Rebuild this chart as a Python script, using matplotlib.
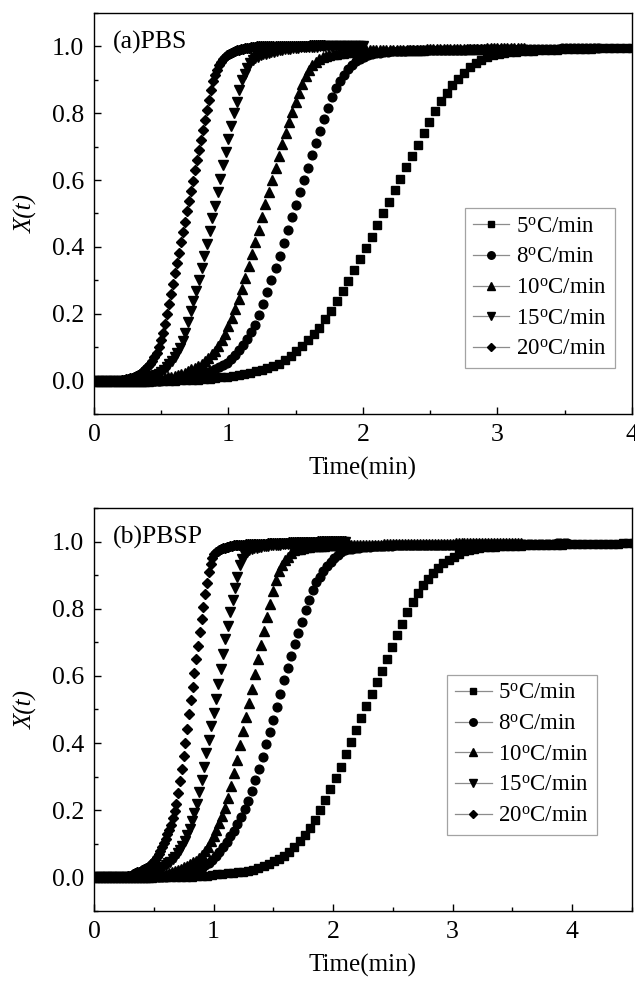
import numpy as np
from matplotlib import pyplot as plt
from matplotlib.lines import Line2D
from matplotlib.ticker import MultipleLocator

plt.rcParams['font.family'] = ['Liberation Serif', 'DejaVu Serif']
plt.rcParams['mathtext.fontset'] = 'custom'
plt.rcParams['mathtext.rm'] = 'Liberation Serif'
plt.rcParams['mathtext.it'] = 'Liberation Serif:italic'

labels = ['5$^\\mathrm{o}$C/min', '8$^\\mathrm{o}$C/min', '10$^\\mathrm{o}$C/min',
          '15$^\\mathrm{o}$C/min', '20$^\\mathrm{o}$C/min']
markers = ['s', 'o', '^', 'v', 'D']
msizes = [5.6, 6.3, 6.9, 6.9, 5.3]
leg_msizes = [4.8, 5.4, 5.8, 5.8, 4.4]

# sampling interval (min) of each curve
dt = [0.043, 0.03, 0.025, 0.02, 0.015]

# ---- (a) PBS : relative crystallinity X(t)
pbs_5 = [0, 0, 0, 0, 0, 0, 0, 0, 0, 0, 0, 0, 0, 0, 0,
         0.001, 0.001, 0.002, 0.003, 0.004, 0.005, 0.007, 0.01, 0.012, 0.015,
         0.017, 0.02, 0.024, 0.028, 0.033, 0.039, 0.045, 0.05, 0.062, 0.075,
         0.088, 0.104, 0.12, 0.139, 0.158, 0.183, 0.207, 0.237, 0.267, 0.298,
         0.33, 0.363, 0.397, 0.431, 0.466, 0.50, 0.535, 0.569, 0.603, 0.638,
         0.672, 0.706, 0.741, 0.775, 0.808, 0.837, 0.862, 0.884, 0.903, 0.921,
         0.938, 0.950, 0.960, 0.968, 0.973, 0.977, 0.980, 0.982, 0.983, 0.985,
         0.986, 0.987, 0.988, 0.989, 0.99, 0.99,
         0.991, 0.991, 0.992, 0.992, 0.993, 0.993, 0.994, 0.994, 0.995, 0.995,
         0.995, 0.996, 0.996, 0.996]
pbs_8 = [0, 0, 0, 0, 0, 0, 0, 0, 0, 0, 0, 0, 0, 0, 0, 0, 0,
         0.001, 0.002, 0.003, 0.004, 0.006, 0.008, 0.01, 0.012, 0.015, 0.018,
         0.021, 0.025, 0.03, 0.035, 0.04, 0.046, 0.053, 0.064, 0.077, 0.091,
         0.106, 0.124, 0.144, 0.167, 0.195, 0.228, 0.264, 0.30, 0.337, 0.374,
         0.412, 0.45, 0.488, 0.525, 0.563, 0.60, 0.637, 0.674, 0.71, 0.746,
         0.782, 0.816, 0.848, 0.874, 0.897, 0.915, 0.931, 0.945, 0.955, 0.963,
         0.969, 0.974, 0.977, 0.979, 0.981, 0.983, 0.984, 0.985, 0.986, 0.987,
         0.987, 0.988, 0.988, 0.989, 0.989, 0.99,
         0.99, 0.99, 0.99, 0.99, 0.99, 0.99, 0.99, 0.99, 0.99, 0.99,
         0.991, 0.991, 0.991, 0.991, 0.991, 0.991, 0.991, 0.991,
         0.992, 0.992, 0.992, 0.992, 0.992, 0.992, 0.992, 0.992,
         0.993, 0.993, 0.993, 0.993, 0.993, 0.993, 0.993,
         0.994, 0.994, 0.994, 0.994, 0.994, 0.994, 0.995, 0.995, 0.995, 0.995]
pbs_10 = [0, 0, 0, 0, 0, 0, 0, 0, 0, 0, 0, 0, 0, 0, 0, 0, 0,
          0.001, 0.002, 0.003, 0.005, 0.007, 0.01, 0.012, 0.014, 0.017, 0.02,
          0.024, 0.029, 0.034, 0.039, 0.044, 0.05, 0.059, 0.068, 0.079, 0.09,
          0.103, 0.12, 0.14, 0.163, 0.187, 0.213, 0.243, 0.274, 0.307, 0.342,
          0.378, 0.414, 0.452, 0.49, 0.528, 0.565, 0.60, 0.636, 0.671, 0.707,
          0.741, 0.774, 0.805, 0.834, 0.862, 0.888, 0.91, 0.928, 0.943, 0.953,
          0.961, 0.967, 0.971, 0.974, 0.976, 0.978, 0.98, 0.981, 0.983, 0.984,
          0.985, 0.986, 0.986, 0.987,
          0.988, 0.988, 0.988, 0.988, 0.988, 0.988, 0.989, 0.989, 0.989, 0.989,
          0.989, 0.989, 0.99, 0.99, 0.99, 0.99, 0.99, 0.99, 0.991, 0.991,
          0.991, 0.991, 0.991, 0.991, 0.992, 0.992, 0.992, 0.992, 0.992, 0.992,
          0.993, 0.993, 0.993, 0.993, 0.993, 0.993, 0.994, 0.994, 0.994, 0.994,
          0.994, 0.994, 0.995, 0.995, 0.995, 0.995, 0.995, 0.995]
pbs_15 = [0, 0, 0, 0, 0, 0, 0, 0, 0, 0, 0, 0, 0, 0, 0, 0,
          0.001, 0.002, 0.003, 0.005, 0.007, 0.01, 0.013, 0.016, 0.02, 0.026,
          0.033, 0.041, 0.05, 0.06, 0.071, 0.083, 0.097, 0.117, 0.142, 0.175,
          0.208, 0.238, 0.269, 0.30, 0.336, 0.373, 0.409, 0.447, 0.485, 0.523,
          0.564, 0.604, 0.644, 0.684, 0.723, 0.762, 0.80, 0.835, 0.869, 0.90,
          0.918, 0.935, 0.95, 0.958, 0.964, 0.969, 0.973, 0.976, 0.978, 0.98,
          0.982, 0.984, 0.986, 0.988, 0.99, 0.991, 0.992, 0.993, 0.994, 0.995,
          0.996, 0.997, 0.997, 0.998, 0.998,
          0.999, 0.999, 0.999, 1.0, 1.0, 1.0, 1.0, 1.0, 1.0, 1.0,
          1.0, 1.0, 1.0, 1.0, 1.0, 1.0, 1.0, 1.0, 1.0, 1.0]
pbs_20 = [0, 0, 0, 0, 0, 0, 0, 0, 0, 0, 0, 0, 0, 0,
          0.001, 0.002, 0.004, 0.005, 0.007, 0.008, 0.01, 0.013, 0.017, 0.021,
          0.026, 0.031, 0.037, 0.043, 0.05, 0.059, 0.07, 0.083, 0.10, 0.12,
          0.143, 0.17, 0.20, 0.23, 0.26, 0.29, 0.321, 0.352, 0.383, 0.414,
          0.445, 0.476, 0.506, 0.537, 0.567, 0.598, 0.629, 0.659, 0.69, 0.72,
          0.75, 0.78, 0.81, 0.84, 0.87, 0.895, 0.914, 0.93, 0.944, 0.954,
          0.962, 0.968, 0.973, 0.977, 0.98, 0.983, 0.986, 0.988, 0.99, 0.991,
          0.993, 0.994, 0.995, 0.996, 0.997, 0.998, 0.999,
          1.0, 1.0, 1.0, 1.0, 1.0, 1.0, 1.0, 1.0, 1.0, 1.0,
          1.001, 1.001, 1.001, 1.001, 1.001, 1.001, 1.001, 1.001,
          1.002, 1.002, 1.002, 1.002, 1.002, 1.002, 1.002, 1.002,
          1.003, 1.003, 1.003, 1.003, 1.003, 1.003, 1.003, 1.003]

# ---- (b) PBSP
pbsp_5 = [0, 0, 0, 0, 0, 0, 0, 0, 0, 0, 0, 0, 0, 0, 0, 0, 0,
          0.001, 0.001, 0.002, 0.003, 0.004, 0.005, 0.007, 0.009, 0.011, 0.012,
          0.014, 0.016, 0.017, 0.019, 0.021, 0.027, 0.033, 0.04, 0.048, 0.056,
          0.064, 0.077, 0.092, 0.107, 0.126, 0.148, 0.172, 0.201, 0.231, 0.263,
          0.296, 0.33, 0.366, 0.402, 0.439, 0.475, 0.511, 0.546, 0.581, 0.616,
          0.651, 0.687, 0.721, 0.755, 0.789, 0.82, 0.848, 0.871, 0.89, 0.906,
          0.92, 0.935, 0.946, 0.955, 0.964, 0.972, 0.976, 0.979, 0.981, 0.983,
          0.984, 0.985, 0.986, 0.986, 0.987, 0.988, 0.988, 0.989, 0.989, 0.99,
          0.99, 0.99, 0.991, 0.991, 0.991, 0.992, 0.992, 0.992, 0.993, 0.993,
          0.993, 0.993, 0.994, 0.994, 0.994, 0.994, 0.995, 0.995, 0.995]
pbsp_8 = [0, 0, 0, 0, 0, 0, 0, 0, 0, 0, 0, 0, 0, 0, 0, 0, 0, 0, 0,
          0.001, 0.002, 0.003, 0.004, 0.006, 0.008, 0.01, 0.013, 0.016, 0.019,
          0.024, 0.029, 0.036, 0.044, 0.053, 0.064, 0.077, 0.091, 0.106, 0.122,
          0.139, 0.158, 0.18, 0.203, 0.228, 0.258, 0.289, 0.322, 0.36, 0.398,
          0.434, 0.47, 0.507, 0.547, 0.587, 0.624, 0.659, 0.694, 0.728, 0.762,
          0.795, 0.825, 0.855, 0.879, 0.896, 0.911, 0.926, 0.94, 0.95, 0.959,
          0.968, 0.975, 0.977, 0.979, 0.98, 0.982, 0.983, 0.984, 0.985, 0.986,
          0.986, 0.987, 0.987, 0.988, 0.988, 0.989, 0.989, 0.99,
          0.99, 0.99, 0.99, 0.99, 0.99, 0.99, 0.99, 0.99, 0.99,
          0.991, 0.991, 0.991, 0.991, 0.991, 0.991, 0.991, 0.991, 0.991,
          0.992, 0.992, 0.992, 0.992, 0.992, 0.992, 0.992, 0.992, 0.992,
          0.993, 0.993, 0.993, 0.993, 0.993, 0.993, 0.993, 0.993,
          0.994, 0.994, 0.994, 0.994, 0.994, 0.994, 0.994,
          0.995, 0.995, 0.995, 0.995]
pbsp_10 = [0, 0, 0, 0, 0, 0, 0, 0, 0, 0, 0, 0, 0, 0, 0, 0, 0, 0,
           0.001, 0.002, 0.003, 0.004, 0.006, 0.008, 0.01, 0.013, 0.016, 0.019,
           0.021, 0.026, 0.03, 0.035, 0.04, 0.045, 0.05, 0.059, 0.068, 0.078,
           0.092, 0.107, 0.124, 0.142, 0.161, 0.183, 0.206, 0.237, 0.272, 0.31,
           0.351, 0.393, 0.436, 0.478, 0.52, 0.562, 0.606, 0.649, 0.692, 0.733,
           0.774, 0.814, 0.852, 0.887, 0.912, 0.93, 0.944, 0.955, 0.967, 0.975,
           0.977, 0.979, 0.981, 0.983, 0.985, 0.986, 0.987, 0.987, 0.988, 0.988,
           0.989, 0.989, 0.99,
           0.99, 0.99, 0.99, 0.99, 0.99, 0.99, 0.99, 0.99,
           0.991, 0.991, 0.991, 0.991, 0.991, 0.991, 0.991, 0.991,
           0.992, 0.992, 0.992, 0.992, 0.992, 0.992, 0.992, 0.992,
           0.993, 0.993, 0.993, 0.993, 0.993, 0.993, 0.993, 0.993,
           0.994, 0.994, 0.994, 0.994, 0.994, 0.994, 0.994, 0.994,
           0.995, 0.995, 0.995, 0.995, 0.995, 0.995, 0.995, 0.995,
           0.996, 0.996, 0.996, 0.996, 0.996, 0.996, 0.996, 0.996,
           0.997, 0.997, 0.997, 0.997, 0.997, 0.997, 0.997]
pbsp_15 = [0, 0, 0, 0, 0, 0, 0, 0, 0, 0, 0, 0, 0, 0, 0, 0, 0, 0,
           0.001, 0.002, 0.004, 0.006, 0.008, 0.01, 0.013, 0.016, 0.019, 0.023,
           0.027, 0.032, 0.037, 0.042, 0.047, 0.054, 0.062, 0.072, 0.082, 0.093,
           0.108, 0.126, 0.145, 0.168, 0.193, 0.22, 0.254, 0.29, 0.33, 0.37,
           0.41, 0.45, 0.49, 0.532, 0.577, 0.621, 0.665, 0.71, 0.75, 0.79,
           0.826, 0.862, 0.895, 0.93, 0.948, 0.96, 0.97, 0.974, 0.977, 0.98,
           0.982, 0.984, 0.985, 0.986, 0.987, 0.988, 0.989, 0.99, 0.99, 0.991,
           0.991, 0.992, 0.992, 0.993, 0.993, 0.994, 0.994, 0.995,
           0.995, 0.996, 0.996, 0.996, 0.996, 0.996, 0.997, 0.997, 0.997, 0.997,
           0.997, 0.998, 0.998, 0.998, 0.998, 0.998, 0.999, 0.999, 0.999, 0.999]
pbsp_20 = [0, 0, 0, 0, 0, 0, 0, 0, 0, 0, 0, 0, 0, 0, 0, 0, 0,
           0.001, 0.002, 0.003, 0.005, 0.007, 0.009, 0.012, 0.015, 0.017, 0.019,
           0.022, 0.025, 0.028, 0.031, 0.034, 0.039, 0.045, 0.052, 0.06, 0.069,
           0.079, 0.09, 0.102, 0.115, 0.128, 0.141, 0.157, 0.177, 0.198, 0.22,
           0.252, 0.286, 0.323, 0.361, 0.40, 0.443, 0.486, 0.527, 0.567, 0.608,
           0.65, 0.69, 0.73, 0.77, 0.806, 0.843, 0.878, 0.909, 0.934, 0.951,
           0.962, 0.968, 0.972, 0.975, 0.978, 0.98, 0.982, 0.984, 0.985, 0.987,
           0.988, 0.989, 0.99, 0.99,
           0.991, 0.991, 0.991, 0.991, 0.992, 0.992, 0.992, 0.992,
           0.993, 0.993, 0.993, 0.993, 0.994, 0.994, 0.994, 0.994,
           0.995, 0.995, 0.995, 0.995, 0.996, 0.996, 0.996, 0.996,
           0.997, 0.997, 0.997, 0.997, 0.998, 0.998, 0.998, 0.998,
           0.999, 0.999, 0.999, 0.999, 1.0, 1.0, 1.0, 1.0, 1.0, 1.0, 1.0, 1.0,
           1.001, 1.001, 1.001, 1.001, 1.001, 1.001,
           1.002, 1.002, 1.002, 1.002, 1.002, 1.002,
           1.003, 1.003, 1.003, 1.003]

panels = [
    ('(a)PBS', [pbs_5, pbs_8, pbs_10, pbs_15, pbs_20], 4.0, (0.968, 0.115)),
    ('(b)PBSP', [pbsp_5, pbsp_8, pbsp_10, pbsp_15, pbsp_20], 4.5, (0.935, 0.189)),
]

fig = plt.figure(figsize=(6.35, 9.82), dpi=100)
rects = [[0.148, 0.5784, 0.847, 0.4084], [0.148, 0.0723, 0.847, 0.4104]]

for rect, (title, curves, xmax, leg_pos) in zip(rects, panels):
    ax = fig.add_axes(rect)
    for y, step, m, ms in zip(curves, dt, markers, msizes):
        t = np.arange(len(y)) * step
        ax.plot(t, y, linestyle='none', marker=m, markersize=ms,
                color='black', clip_on=True)

    ax.set_xlim(0, xmax)
    ax.set_ylim(-0.1, 1.1)
    ax.xaxis.set_major_locator(MultipleLocator(1))
    ax.xaxis.set_minor_locator(MultipleLocator(0.5))
    ax.yaxis.set_minor_locator(MultipleLocator(0.1))
    ax.set_yticks(np.arange(0, 1.01, 0.2))
    ax.set_yticklabels(['0.0', '0.2', '0.4', '0.6', '0.8', '1.0'])
    ax.tick_params(which='both', direction='in', labelsize=18.5, width=1,
                   top=False, right=False)
    ax.tick_params(which='major', length=5, pad=7)
    ax.tick_params(which='minor', length=3)
    for sp in ax.spines.values():
        sp.set_linewidth(1.0)

    ax.set_xlabel('Time(min)', fontsize=18, labelpad=8)
    ax.set_ylabel('X(t)', fontsize=18, fontstyle='italic', labelpad=10)
    ax.text(0.035, 0.955, title, transform=ax.transAxes, fontsize=18.5,
            va='top', ha='left')

    handles = [Line2D([], [], color='#8c8c8c', lw=0.9, marker=m,
                      markersize=ms, markerfacecolor='black',
                      markeredgecolor='black')
               for m, ms in zip(markers, leg_msizes)]
    leg = ax.legend(handles, labels, loc='lower right', bbox_to_anchor=leg_pos,
                    fontsize=16.5, frameon=True, fancybox=False,
                    edgecolor='#8c8c8c', handlelength=1.6, handletextpad=0.3,
                    labelspacing=0.42, borderpad=0.35, borderaxespad=0)
    leg.get_frame().set_linewidth(0.9)

fig.savefig('out.png', dpi=100)
